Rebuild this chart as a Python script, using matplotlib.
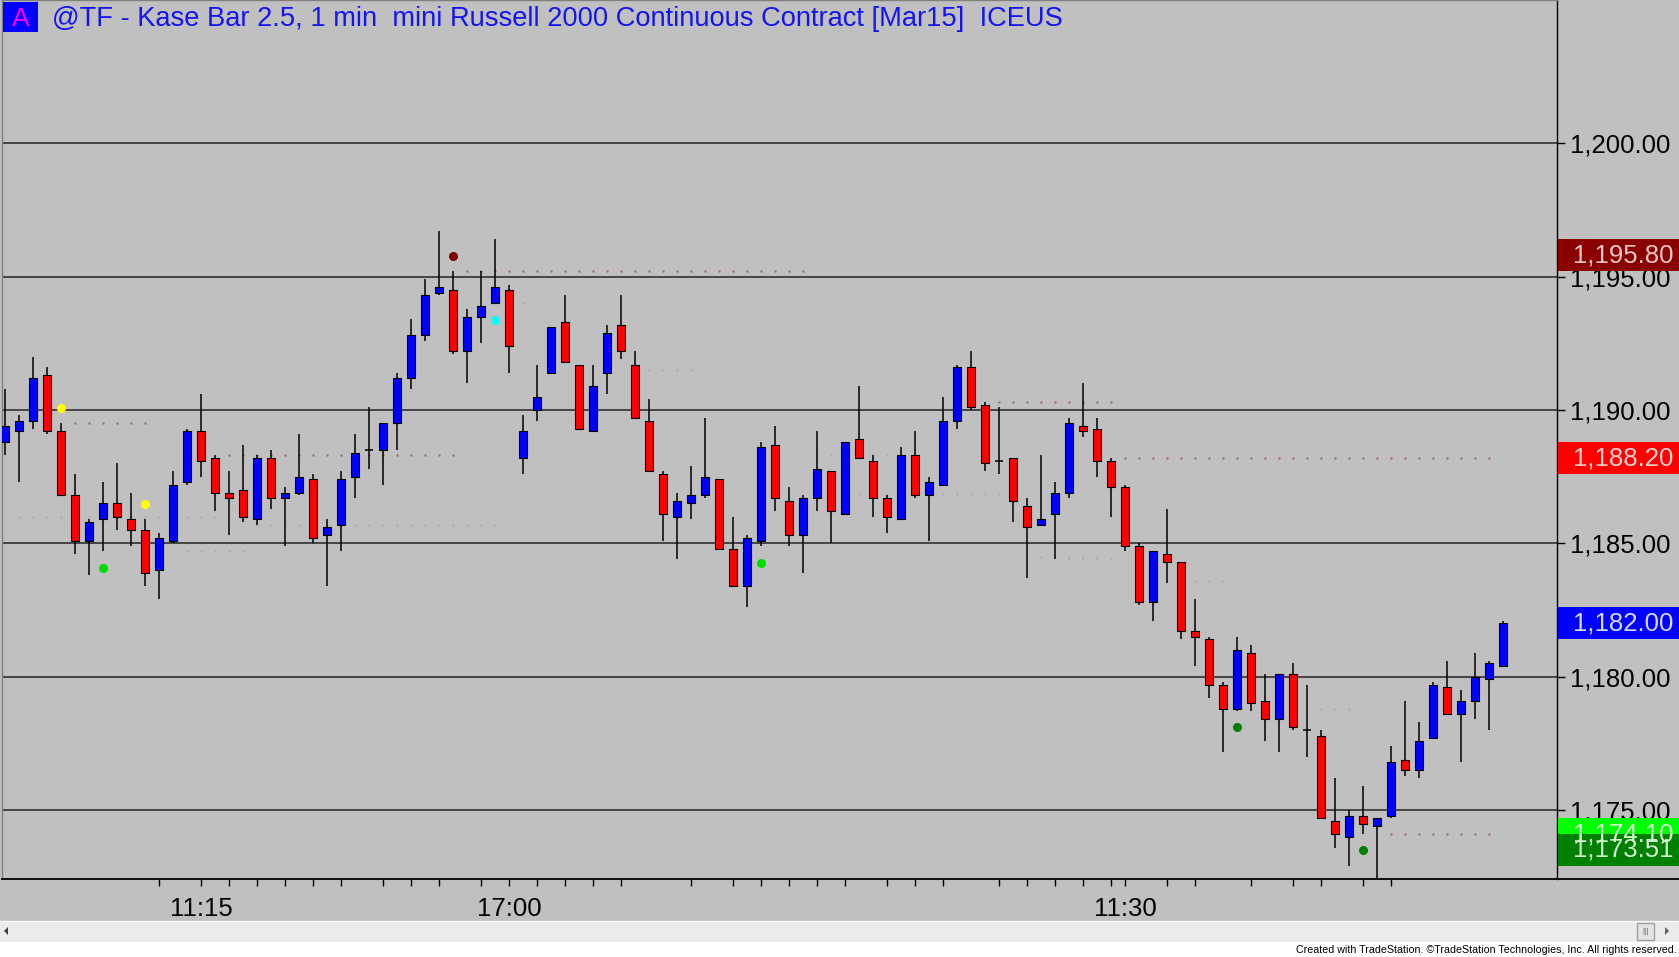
import matplotlib
matplotlib.use("Agg")
import matplotlib.pyplot as plt
from matplotlib.patches import Rectangle, Polygon
from matplotlib.lines import Line2D

plt.rcParams['font.family'] = ['Liberation Sans', 'DejaVu Sans']

# ---------------- data ----------------
title = "@TF - Kase Bar 2.5, 1 min  mini Russell 2000 Continuous Contract [Mar15]  ICEUS"

opens = [1188.8, 1189.2, 1189.6, 1191.3, 1189.2, 1186.8, 1185.1, 1185.9, 1186.5, 1185.9,
         1185.5, 1184.0, 1185.1, 1187.3, 1189.2, 1188.2, 1186.9, 1187.0, 1185.9, 1188.2,
         1186.7, 1186.9, 1187.4, 1185.3, 1185.7, 1187.5, 1188.5, 1188.5, 1189.5, 1191.2,
         1192.8, 1194.4, 1194.5, 1192.2, 1193.5, 1194.0, 1194.5, 1188.2, 1190.0, 1191.4,
         1193.3, 1191.7, 1189.2, 1191.4, 1193.2, 1191.7, 1189.6, 1187.6, 1186.0, 1186.5,
         1186.8, 1187.4, 1184.8, 1183.4, 1185.1, 1188.7, 1186.6, 1185.3, 1186.7, 1187.7,
         1186.1, 1188.9, 1188.1, 1186.7, 1185.9, 1188.3, 1186.8, 1187.2, 1189.6, 1191.6,
         1190.2, 1188.1, 1188.2, 1186.4, 1185.7, 1186.1, 1186.9, 1189.4, 1189.3, 1188.1,
         1187.1, 1184.9, 1182.8, 1184.6, 1184.3, 1181.7, 1181.4, 1179.7, 1178.8, 1180.9,
         1179.1, 1178.4, 1180.1, 1178.0, 1177.8, 1174.6, 1174.0, 1174.8, 1174.4, 1174.8,
         1176.9, 1176.5, 1177.7, 1179.6, 1178.6, 1179.1, 1179.9, 1180.4]
highs = [1190.8, 1189.8, 1192.0, 1191.6, 1189.5, 1187.6, 1185.9, 1187.3, 1188.0, 1186.9,
         1185.9, 1185.4, 1187.7, 1189.3, 1190.6, 1188.3, 1187.7, 1188.7, 1188.3, 1188.5,
         1187.1, 1189.1, 1187.6, 1185.9, 1187.7, 1189.1, 1190.1, 1189.5, 1191.4, 1193.4,
         1194.9, 1196.7, 1195.2, 1193.8, 1195.2, 1196.4, 1194.7, 1189.8, 1191.7, 1193.1,
         1194.3, 1191.7, 1191.7, 1193.2, 1194.3, 1192.2, 1190.4, 1187.7, 1186.9, 1187.9,
         1189.7, 1187.4, 1186.0, 1185.3, 1188.8, 1189.4, 1187.1, 1186.8, 1189.2, 1187.7,
         1188.8, 1190.9, 1188.3, 1186.8, 1188.6, 1189.2, 1187.5, 1190.5, 1191.7, 1192.2,
         1190.3, 1190.1, 1188.2, 1186.7, 1188.3, 1187.3, 1189.7, 1191.0, 1189.7, 1188.2,
         1187.2, 1185.0, 1184.7, 1186.3, 1184.3, 1182.9, 1181.5, 1179.8, 1181.5, 1181.2,
         1180.1, 1180.1, 1180.5, 1179.7, 1178.0, 1176.2, 1175.0, 1175.9, 1174.7, 1177.4,
         1179.1, 1178.3, 1179.8, 1180.6, 1179.5, 1180.9, 1180.6, 1182.1]
lows = [1188.3, 1187.3, 1189.3, 1189.1, 1186.8, 1184.6, 1183.8, 1184.7, 1185.5, 1184.9,
        1183.4, 1182.9, 1185.0, 1187.2, 1187.5, 1186.2, 1185.3, 1185.8, 1185.7, 1186.3,
        1184.9, 1186.8, 1185.0, 1183.4, 1184.7, 1186.7, 1187.8, 1187.2, 1188.5, 1190.8,
        1192.6, 1194.3, 1192.1, 1191.0, 1192.5, 1194.0, 1191.4, 1187.6, 1189.6, 1191.4,
        1191.8, 1189.3, 1189.2, 1190.6, 1191.9, 1189.7, 1187.7, 1185.1, 1184.4, 1185.9,
        1186.7, 1184.8, 1183.4, 1182.6, 1184.9, 1186.2, 1184.9, 1183.9, 1186.2, 1185.0,
        1186.1, 1188.2, 1186.0, 1185.4, 1185.9, 1186.7, 1185.1, 1187.2, 1189.3, 1190.0,
        1187.7, 1187.6, 1185.8, 1183.7, 1185.7, 1184.4, 1186.7, 1189.0, 1187.5, 1186.0,
        1184.7, 1182.7, 1182.1, 1183.5, 1181.4, 1180.4, 1179.2, 1177.2, 1178.7, 1178.7,
        1177.6, 1177.2, 1178.0, 1177.0, 1174.7, 1173.6, 1172.9, 1174.1, 1172.4, 1174.7,
        1176.3, 1176.2, 1177.7, 1178.6, 1176.8, 1178.4, 1178.0, 1180.4]
closes = [1189.4, 1189.6, 1191.2, 1189.2, 1186.8, 1185.1, 1185.8, 1186.5, 1186.0, 1185.5,
          1183.9, 1185.2, 1187.2, 1189.2, 1188.1, 1186.9, 1186.7, 1186.0, 1188.2, 1186.7,
          1186.9, 1187.5, 1185.2, 1185.6, 1187.4, 1188.4, 1188.5, 1189.5, 1191.2, 1192.8,
          1194.3, 1194.6, 1192.2, 1193.5, 1193.9, 1194.6, 1192.4, 1189.2, 1190.5, 1193.1,
          1191.8, 1189.3, 1190.9, 1192.9, 1192.2, 1189.7, 1187.7, 1186.1, 1186.6, 1186.8,
          1187.5, 1184.8, 1183.4, 1185.2, 1188.6, 1186.7, 1185.3, 1186.7, 1187.8, 1186.2,
          1188.8, 1188.2, 1186.7, 1186.0, 1188.3, 1186.8, 1187.3, 1189.6, 1191.6, 1190.1,
          1188.0, 1188.1, 1186.6, 1185.6, 1185.9, 1186.9, 1189.5, 1189.2, 1188.1, 1187.1,
          1184.9, 1182.8, 1184.7, 1184.3, 1181.7, 1181.5, 1179.7, 1178.8, 1181.0, 1179.0,
          1178.4, 1180.1, 1178.1, 1178.0, 1174.7, 1174.1, 1174.8, 1174.5, 1174.7, 1176.8,
          1176.5, 1177.6, 1179.7, 1178.6, 1179.1, 1180.0, 1180.5, 1182.0]

# signal dots (bar number, price, colour)
signal_bars = [5, 8, 11, 33, 36, 55, 89, 98]
signal_prices = [1190.06, 1184.09, 1186.49, 1195.78, 1193.38, 1184.28, 1178.12, 1173.49]
signal_colors = ['#FFFF00', '#00DD00', '#FFFF00', '#800000', '#00FFFF', '#00DD00', '#008000', '#008000']

# faint dotted levels (price, first bar, last bar, strong?)
level_prices = [1189.5, 1186.0, 1184.7, 1188.3, 1185.7, 1195.2, 1194.0, 1191.5, 1188.3,
                1186.85, 1190.3, 1184.5, 1184.4, 1188.2, 1183.6, 1178.8, 1174.1]
level_start = [6, 2, 14, 17, 19, 34, 37, 47, 59, 62, 72, 75, 77, 81, 86, 95, 100]
level_end = [11, 16, 18, 33, 36, 58, 38, 50, 65, 72, 80, 79, 80, 107, 88, 97, 107]
level_strong = [True, False, False, True, False, True, False, False, False, False,
                True, False, False, True, False, False, True]

# axes
price_ticks = [1175, 1180, 1185, 1190, 1195, 1200]
time_ticks = [12, 15, 17, 19, 21, 23, 25, 28, 30, 32, 35, 37, 39, 41, 43, 45, 50, 53, 55,
              57, 59, 61, 64, 66, 68, 72, 74, 76, 78, 80, 81, 84, 86, 90, 93, 95, 98, 100]
time_labels = {15: '11:15', 37: '17:00', 81: '11:30'}

# price markers on the right axis
marker_prices = [1195.80, 1188.20, 1182.00, 1174.10, 1173.51]
marker_colors = ['#8B0000', '#FF0000', '#0000FF', '#00FF00', '#008000']
marker_text_colors = ['#F0C8C8', '#FFD0D0', '#D8D8FF', '#D0FFD0', '#D0F0D0']

# ---------------- figure ----------------
W, H = 1679, 957
fig = plt.figure(figsize=(W / 100, H / 100), dpi=100, facecolor='#C0C0C0')


def fx(px):
    return px / W


def fy(py):
    return 1 - py / H


ax = fig.add_axes([fx(2), fy(879), (1557 - 2) / W, 879 / H])
ax.set_facecolor('#C0C0C0')
xmin = 1 - 3 / 14
xmax = 1 + (1557 - 5) / 14
ax.set_xlim(xmin, xmax)
ax.set_ylim(1172.42, 1205.375)

for s in ['left', 'top']:
    ax.spines[s].set_color('#808080')
    ax.spines[s].set_linewidth(1.0)
ax.spines['right'].set_color('black')
ax.spines['right'].set_linewidth(1.0)
ax.spines['bottom'].set_color('black')
ax.spines['bottom'].set_linewidth(1.3)

# grid lines
ax.hlines(price_ticks, xmin, xmax, color='#3c3c3c', lw=1.3, zorder=1)

# dotted levels
for lp, ls, le, st in zip(level_prices, level_start, level_end, level_strong):
    xs = list(range(ls, le + 1))
    ax.plot(xs, [lp] * len(xs), linestyle='none', marker='s', ms=1.6,
            color='#A06060' if st else '#ABABAB', mec='none', zorder=1.5)

# candles
xs = list(range(1, len(opens) + 1))
ax.vlines(xs, lows, highs, color='black', lw=1.1, zorder=2)
for x, o, c in zip(xs, opens, closes):
    col = '#0000FF' if c >= o else '#FF0000'
    if abs(c - o) < 0.05:
        ax.hlines(o, x - 0.28, x + 0.28, color='black', lw=1.1, zorder=3)
    else:
        ax.add_patch(Rectangle((x - 0.27, min(o, c)), 0.54, abs(c - o),
                               facecolor=col, edgecolor='black', lw=0.8, zorder=3))

# signal dots
for b, p, c in zip(signal_bars, signal_prices, signal_colors):
    ax.plot([b], [p], 'o', ms=5.5, color=c, mec=c, zorder=4)

# y axis on right
ax.yaxis.tick_right()
ax.set_yticks(price_ticks)
ax.set_yticklabels([f"{v:,.2f}" for v in price_ticks])
ax.tick_params(axis='y', length=6, width=1, colors='black', labelsize=18.5, pad=3)

# x axis
ax.set_xticks(time_ticks)
ax.set_xticklabels([time_labels.get(t, '') for t in time_ticks])
ax.tick_params(axis='x', length=5, width=1, colors='black', labelsize=18.5, pad=8)

# price markers
ytr = ax.get_yaxis_transform()
for p, fc, tc in zip(marker_prices, marker_colors, marker_text_colors):
    ax.add_patch(Rectangle((1.0006, p - 0.6), 0.0785, 1.2, transform=ytr,
                           facecolor=fc, edgecolor='none', clip_on=False, zorder=6))
    ax.text(1.0746, p, f"{p:,.2f}", transform=ytr, ha='right', va='center',
            fontsize=18.5, color=tc, clip_on=False, zorder=7)

# bottom line extends under the price axis
fig.add_artist(Line2D([fx(1557), 1], [fy(879), fy(879)], color='black', lw=1.3))

# title
fig.add_artist(Rectangle((fx(3), fy(32)), 35 / W, 30 / H, transform=fig.transFigure,
                         facecolor='#0000FF', edgecolor='none'))
fig.text(fx(20.5), fy(19), 'A', color='#FF00FF', fontsize=19, ha='center', va='center')
fig.text(fx(52), fy(19), title, color='#1414F0', fontsize=19.6, ha='left', va='center')

# scrollbar and bottom strip
fig.add_artist(Rectangle((0, fy(942)), 1, 21 / H, transform=fig.transFigure,
                         facecolor='#EBEBEB', edgecolor='none'))
fig.add_artist(Line2D([0, 1], [fy(921), fy(921)], color='#F8F8F8', lw=1))
fig.add_artist(Rectangle((0, 0), 1, (957 - 942) / H, transform=fig.transFigure,
                         facecolor='white', edgecolor='none'))
fig.add_artist(Polygon([[fx(4), fy(931)], [fx(8), fy(927)], [fx(8), fy(935)]],
                       closed=True, transform=fig.transFigure, facecolor='#404040', edgecolor='none'))
fig.add_artist(Polygon([[fx(1669), fy(931)], [fx(1665), fy(927)], [fx(1665), fy(935)]],
                       closed=True, transform=fig.transFigure, facecolor='#606060', edgecolor='none'))
fig.add_artist(Rectangle((fx(1637), fy(940)), 17 / W, 17 / H, transform=fig.transFigure,
                         facecolor='#E4E4E4', edgecolor='#A0A0A0', lw=1))
fig.text(fx(1645.5), fy(931.5), '|||', fontsize=6, ha='center', va='center', color='#505050')
fig.text(fx(1677), fy(950), 'Created with TradeStation. \u00a9TradeStation Technologies, Inc. All rights reserved.',
         fontsize=7.7, ha='right', va='center', color='black',
         family=['Liberation Sans Narrow', 'Liberation Sans', 'DejaVu Sans'])

fig.savefig('out.png', dpi=100, facecolor=fig.get_facecolor())
